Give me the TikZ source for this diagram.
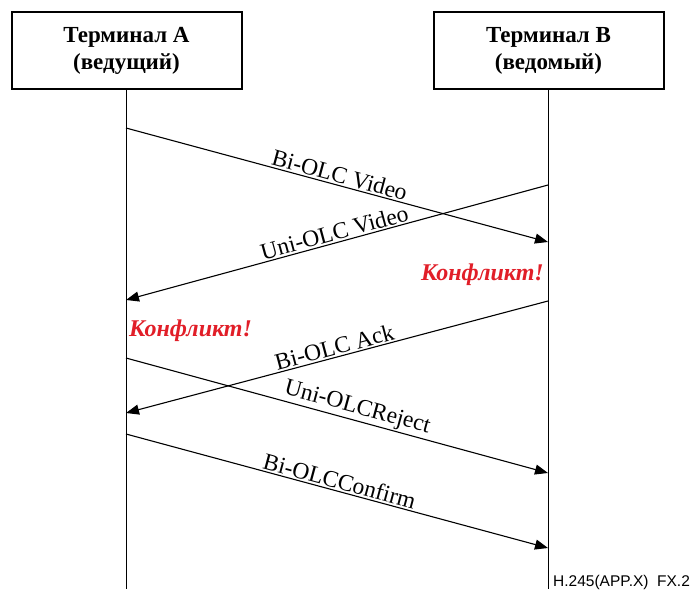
\documentclass[tikz,border=0pt]{standalone}
\usepackage{fontspec}
\setmainfont{Liberation Serif}
\newfontfamily\footfont{Liberation Sans}
\usetikzlibrary{positioning,arrows.meta}
\definecolor{conflictred}{RGB}{225,30,40}

\begin{document}
\begin{tikzpicture}[
    x=1pt, y=-1pt,
    terminal/.style={rectangle, draw=black, line width=2pt, minimum width=230pt, minimum height=77pt, align=center, inner sep=0pt, font=\fontsize{23}{27}\selectfont\bfseries},
    lifeline/.style={line width=1pt},
    msg/.style={-{Triangle[length=13pt,width=10pt]}, line width=1.1pt},
    msglabel/.style={font=\fontsize{23.5}{27}\selectfont, sloped, above, inner sep=1.5pt},
    conflict/.style={font=\fontsize{24}{28}\selectfont\bfseries\itshape, text=conflictred, inner sep=0pt}
]
\useasboundingbox (0,0) rectangle (696,589);

% Terminals
\node[terminal] (ta) at (126.5,50.5) {Терминал А\\(ведущий)};
\node[terminal] (tb) at (548.5,50.5) {Терминал В\\(ведомый)};

% Lifeline points
\coordinate (aend) at (126,589);
\coordinate (bend) at (548,589);
\coordinate (a1) at (126,128);
\coordinate (b1) at (548,242);
\coordinate (b2) at (548,185);
\coordinate (a2) at (126,300);
\coordinate (b3) at (548,301);
\coordinate (a3) at (126,413);
\coordinate (a4) at (126,358);
\coordinate (b4) at (548,473);
\coordinate (a5) at (126,434);
\coordinate (b5) at (548,548);

% Lifelines
\draw[lifeline] (ta.south -| aend) -- (aend);
\draw[lifeline] (tb.south -| bend) -- (bend);

% Messages
\draw[msg] (a1) -- node[msglabel] {Bi-OLC Video} (b1);
\draw[msg] (b2) -- node[msglabel] {Uni-OLC Video} (a2);
\draw[msg] (b3) -- node[msglabel] {Bi-OLC Ack} (a3);
\draw[msg] (a4) -- node[msglabel, pos=0.54] {Uni-OLCReject} (b4);
\draw[msg] (a5) -- node[msglabel] {Bi-OLCConfirm} (b5);

% Conflicts
\node[conflict, anchor=base east] (cb) at (544,280) {Конфликт!};
\node[conflict, anchor=base west] (ca) at (129,336) {Конфликт!};

% Figure tag
\node[font=\footfont\fontsize{15.5}{18}\selectfont, anchor=base west, inner sep=0pt] (tag) at (553,586) {H.245(APP.X)\ \ FX.2};

\end{tikzpicture}
\end{document}
